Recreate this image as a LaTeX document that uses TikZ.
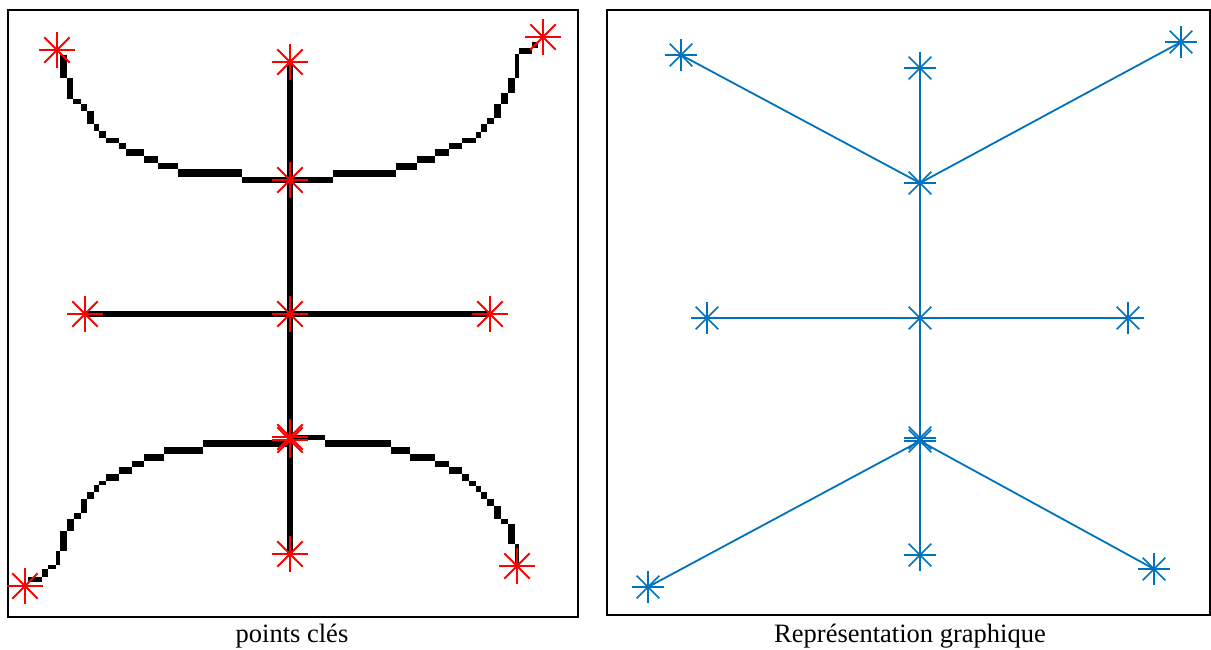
\documentclass[tikz,border=0pt]{standalone}
\usepackage{fontspec}
\setmainfont{Liberation Serif}
\definecolor{mblue}{RGB}{0,114,189}
\definecolor{mred}{RGB}{255,0,0}
\tikzset{
  frame/.style={draw=black, line width=1.5pt},
  pix/.style={fill=black},
  thickblack/.style={draw=black, line width=5.5pt},
  blueline/.style={draw=mblue, line width=1.8pt},
  caption/.style={font=\fontsize{26.5}{30}\selectfont, anchor=base, inner sep=0pt},
  pics/redast/.style={code={\foreach \a in {0,45,90,135}{\draw[mred, line width=1.9pt] (\a:18) -- (\a+180:18);}}},
  pics/blueast/.style={code={\foreach \a in {0,45,90,135}{\draw[mblue, line width=1.7pt] (\a:16) -- (\a+180:16);}}}
}
\begin{document}
\begin{tikzpicture}[x=1pt,y=-1pt]
\useasboundingbox (0,0) rectangle (1211,650);
% frames
\draw[frame] (8,10) rectangle (578,617);
\draw[frame] (607,10) rectangle (1210,615);
% ---------- left panel: key points ----------
\coordinate (lTL) at (57,50);
\coordinate (lTC) at (290,62);
\coordinate (lTR) at (543,37);
\coordinate (lJ1) at (290,180);
\coordinate (lML) at (85,314);
\coordinate (lMC) at (290,314);
\coordinate (lMR) at (490,314);
\coordinate (lJ2) at (290,440);
\coordinate (lJ2b) at (290,437);
\coordinate (lBC) at (290,554);
\coordinate (lBL) at (25,586);
\coordinate (lBR) at (517,566);
\draw[thickblack] (lTC) -- (lBC);
\draw[thickblack] (lML) -- (lMR);
% top-left staircase
\foreach \xa/\ya/\xb/\yb in {60/55/66.7/78.3, 66.7/78.3/73.3/99.3, 73.3/99.3/80.7/104, 80.7/104/87.3/110.7,
  87.3/110.7/94/124.3, 94/124.3/99.3/131, 99.3/131/106/137.7, 106/137.7/119.3/142.7,
  119.3/142.7/126/149.3, 126/149.3/144/156, 144/156/157.7/162.7, 157.7/162.7/178/169.3,
  178/169.3/242/176.7, 242/176.7/290/183.3}
  {\fill[pix] (\xa,\ya) rectangle (\xb,\yb);}
% top-right staircase
\foreach \xa/\ya/\xb/\yb in {290/176.7/332.7/182.7, 332.7/170/396/176.7, 396/162.7/416.7/170, 416.7/156/435/162.7,
  435/149.3/448.7/156, 448.7/142.7/462.3/149.3, 462.3/138.3/476/142.7, 476/131.7/480.7/138.3,
  480.7/124.3/487.3/131.7, 487.3/117.7/494/124.3, 494/104.3/500.7/117.7, 500.7/92.7/508/104.3,
  508/78.3/514.7/92.7, 514.7/54.3/519.3/78.3, 519.3/47.7/531.7/54.3, 531.7/41.7/538.3/47.7}
  {\fill[pix] (\xa,\ya) rectangle (\xb,\yb);}
% bottom-left staircase
\foreach \xa/\ya/\xb/\yb in {28.3/576.7/41.7/582.3, 41.7/569.3/48.3/576.7, 48.3/565/55.7/569.3, 55.7/551/60/565,
  60/531/67.3/551, 67.3/519.3/74/531, 74/512.7/80.7/519.3, 80.7/499/87.3/512.7,
  87.3/492.3/94.3/499, 94.3/485/99/492.3, 99/480.7/105.7/485, 105.7/474/119/480.7,
  119/467.3/132.3/474, 132.3/460.7/144.3/467.3, 144.3/454/164.3/460.7, 164.3/446.7/203.3/454,
  203.3/440/290/446.7}
  {\fill[pix] (\xa,\ya) rectangle (\xb,\yb);}
% bottom-right staircase
\foreach \xa/\ya/\xb/\yb in {290/435/325/440, 325/440/391/446.7, 391/446.7/410/454, 410/454/435/460.7,
  435/460.7/448.7/467.3, 448.7/467.3/462.3/474, 462.3/474/469.3/480.7, 469.3/480.7/476/485.7,
  476/485.7/480.7/492.3, 480.7/492.3/487.3/499, 487.3/499/494/505.7, 494/505.7/500.7/519.3,
  500.7/519.3/508/524.3, 508/524.3/514.7/544, 514.7/544/519.3/565}
  {\fill[pix] (\xa,\ya) rectangle (\xb,\yb);}
% red key-point markers
\foreach \p in {lTL,lTC,lTR,lJ1,lML,lMC,lMR,lJ2,lJ2b,lBC,lBL,lBR}
  {\path (\p) pic {redast};}
% ---------- right panel: graph ----------
\coordinate (rTL) at (681,55);
\coordinate (rTC) at (920,68);
\coordinate (rTR) at (1181,42);
\coordinate (rJ1) at (920,183);
\coordinate (rML) at (707,318);
\coordinate (rMC) at (920,318);
\coordinate (rMR) at (1128,318);
\coordinate (rJ2) at (920,441);
\coordinate (rJ2b) at (920,438);
\coordinate (rBC) at (920,555);
\coordinate (rBL) at (648,587);
\coordinate (rBR) at (1154,569);
\draw[blueline] (rTC) -- (rJ1) -- (rMC) -- (rJ2) -- (rBC);
\draw[blueline] (rTL) -- (rJ1);
\draw[blueline] (rTR) -- (rJ1);
\draw[blueline] (rML) -- (rMC) -- (rMR);
\draw[blueline] (rJ2) -- (rBL);
\draw[blueline] (rJ2) -- (rBR);
\foreach \p in {rTL,rTC,rTR,rJ1,rML,rMC,rMR,rJ2,rJ2b,rBC,rBL,rBR}
  {\path (\p) pic {blueast};}
% captions
\node[caption] (cap1) at (292,642) {points clés};
\node[caption] (cap2) at (910,642) {Représentation graphique};
\end{tikzpicture}
\end{document}
